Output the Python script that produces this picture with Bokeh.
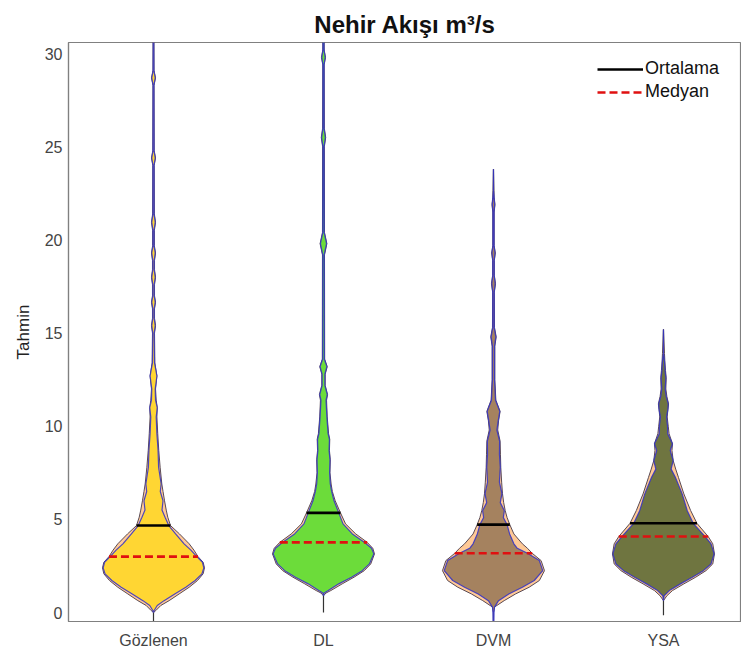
import numpy as np
from bokeh.plotting import figure
from bokeh.models import Range1d, Legend, LegendItem, FixedTicker
from bokeh.embed import file_html
from bokeh.resources import INLINE

categories = ["Gözlenen", "DL", "DVM", "YSA"]

# Violin half-width profiles (value level, outer KDE width, inner KDE width)
gozlenen_y = [0.0, 0.11, 0.38, 0.64, 1.0, 1.36, 1.72, 2.08, 2.4, 2.7, 3.0, 3.35, 3.69, 4.22, 4.67,
              5.12, 5.5, 6.0, 6.5, 6.9, 7.8, 8.7, 9.6, 10.5, 11.0, 11.4, 12.0, 12.7, 13.4, 15.0,
              15.4, 15.8, 16.3, 16.66, 17.0, 17.6, 18.0, 18.4, 18.9, 19.3, 19.7, 20.5, 20.95, 21.4,
              24.0, 24.4, 24.8, 28.3, 28.7, 29.1, 31.5]
gozlenen_outer = [0.0, 0.014, 0.043, 0.092, 0.151, 0.21, 0.259, 0.292, 0.30, 0.292, 0.262, 0.238,
                  0.21, 0.153, 0.10, 0.084, 0.075, 0.065, 0.056, 0.049, 0.039, 0.031, 0.025, 0.02,
                  0.022, 0.016, 0.012, 0.02, 0.008, 0.006, 0.012, 0.006, 0.006, 0.012, 0.006, 0.006,
                  0.012, 0.006, 0.006, 0.012, 0.005, 0.005, 0.012, 0.005, 0.004, 0.012, 0.004, 0.003,
                  0.012, 0.003, 0.002]
gozlenen_inner = [0.0, 0.004, 0.022, 0.062, 0.125, 0.19, 0.245, 0.285, 0.296, 0.288, 0.255, 0.22,
                  0.18, 0.13, 0.09, 0.068, 0.05, 0.056, 0.04, 0.045, 0.03, 0.027, 0.02, 0.016,
                  0.022, 0.012, 0.01, 0.02, 0.006, 0.004, 0.01, 0.004, 0.004, 0.01, 0.004, 0.004,
                  0.01, 0.004, 0.004, 0.01, 0.003, 0.003, 0.01, 0.003, 0.003, 0.01, 0.003, 0.002,
                  0.01, 0.002, 0.001]

dl_y = [0.9, 1.05, 1.18, 1.54, 1.9, 2.25, 2.61, 3.15, 3.45, 3.77, 4.22, 4.76, 5.35, 6.0, 6.5, 6.9,
        7.5, 8.2, 8.7, 9.3, 9.6, 10.5, 11.4, 11.7, 12.2, 12.8, 13.2, 13.6, 19.2, 19.8, 20.4, 25.0,
        25.5, 26.0, 29.4, 29.8, 30.2, 31.5]
dl_outer = [0.0, 0.015, 0.043, 0.11, 0.18, 0.24, 0.278, 0.30, 0.29, 0.257, 0.19, 0.13, 0.10, 0.069,
            0.052, 0.045, 0.038, 0.04, 0.035, 0.037, 0.03, 0.022, 0.018, 0.024, 0.01, 0.01, 0.022,
            0.007, 0.006, 0.02, 0.006, 0.005, 0.013, 0.005, 0.004, 0.012, 0.004, 0.003]
dl_inner = [0.0, 0.004, 0.028, 0.09, 0.165, 0.228, 0.27, 0.296, 0.283, 0.24, 0.17, 0.115, 0.09,
            0.062, 0.048, 0.04, 0.036, 0.038, 0.033, 0.035, 0.027, 0.02, 0.015, 0.022, 0.008,
            0.008, 0.02, 0.005, 0.004, 0.018, 0.004, 0.003, 0.011, 0.003, 0.003, 0.01, 0.003, 0.002]

dvm_y = [-0.6, 0.0, 0.29, 0.64, 1.0, 1.36, 1.72, 2.25, 2.79, 3.18, 3.45, 3.69, 4.22, 4.72, 5.1,
         5.47, 5.9, 6.38, 7.0, 7.8, 8.5, 9.2, 9.8, 10.3, 10.8, 11.4, 12.5, 14.3, 14.8, 15.3, 17.2,
         17.65, 18.1, 18.9, 19.3, 19.7, 21.5, 21.9, 22.3, 22.65, 23.8]
dvm_outer = [0.0, 0.0, 0.005, 0.063, 0.13, 0.21, 0.27, 0.30, 0.28, 0.228, 0.2, 0.17, 0.12, 0.096,
             0.08, 0.069, 0.06, 0.053, 0.048, 0.043, 0.041, 0.039, 0.025, 0.03, 0.039, 0.014,
             0.008, 0.008, 0.016, 0.006, 0.005, 0.012, 0.005, 0.005, 0.011, 0.004, 0.004, 0.009,
             0.004, 0.003, 0.0]
dvm_inner = [0.002, 0.003, 0.006, 0.03, 0.09, 0.17, 0.24, 0.29, 0.27, 0.2, 0.14, 0.12, 0.095,
             0.08, 0.058, 0.064, 0.04, 0.05, 0.035, 0.04, 0.035, 0.036, 0.02, 0.028, 0.037, 0.012,
             0.006, 0.006, 0.014, 0.004, 0.004, 0.01, 0.004, 0.004, 0.009, 0.003, 0.003, 0.007,
             0.003, 0.0, 0.0]

ysa_y = [0.64, 0.9, 1.18, 1.54, 1.9, 2.25, 2.61, 3.15, 3.69, 4.08, 4.79, 5.47, 6.37, 7.26, 7.7,
         8.16, 8.7, 9.06, 9.6, 10.0, 10.5, 10.9, 11.2, 11.6, 12.0, 12.6, 13.0, 13.5, 13.9, 15.2]
ysa_outer = [0.0, 0.02, 0.053, 0.12, 0.19, 0.25, 0.29, 0.30, 0.29, 0.263, 0.197, 0.16, 0.12, 0.088,
             0.072, 0.057, 0.05, 0.053, 0.033, 0.028, 0.022, 0.026, 0.03, 0.02, 0.014, 0.016,
             0.012, 0.008, 0.006, 0.0]
ysa_inner = [0.0, 0.004, 0.035, 0.1, 0.17, 0.235, 0.28, 0.298, 0.28, 0.245, 0.175, 0.14, 0.11,
             0.07, 0.045, 0.057, 0.04, 0.053, 0.025, 0.024, 0.018, 0.026, 0.028, 0.016, 0.01,
             0.014, 0.009, 0.006, 0.0, 0.0]

means = [4.67, 5.35, 4.72, 4.79]
medians = [3.0, 3.77, 3.18, 4.08]
data_min = [-1.0, 0.0, -1.0, -0.15]
data_max = [32.0, 32.0, 23.8, 15.2]

fill_colors = ["#FFD633", "#6CDC3A", "#A5825F", "#6F7540"]
outer_fill = "#FFC996"

profiles = [
    (gozlenen_y, gozlenen_outer, gozlenen_inner),
    (dl_y, dl_outer, dl_inner),
    (dvm_y, dvm_outer, dvm_inner),
    (ysa_y, ysa_outer, ysa_inner),
]

FONT = "Liberation Sans"

p = figure(width=741, height=657, output_backend="svg", toolbar_location=None,
           x_range=Range1d(0.5, 4.459), y_range=Range1d(-0.48, 30.6),
           min_border_left=68, min_border_right=0, min_border_top=42, min_border_bottom=36)

p.title.text = "Nehir Akışı m³/s"
p.title.align = "center"
p.title.text_font = FONT
p.title.text_font_size = "24px"
p.title.text_font_style = "bold"
p.title.text_color = "#111111"
p.title.standoff = 10
p.title.offset = 10

p.xgrid.visible = False
p.ygrid.visible = False
p.outline_line_color = "#808080"
p.outline_line_width = 1.2
p.background_fill_color = "white"
p.border_fill_color = "white"

# thin range lines
p.segment(x0=[i + 1 for i in range(4)], y0=data_min, x1=[i + 1 for i in range(4)], y1=data_max,
          line_color="#333333", line_width=1.2)

for i, (ys, outer, inner) in enumerate(profiles):
    c = i + 1
    ys = np.array(ys, dtype=float)
    o = np.array(outer, dtype=float)
    n = np.array(inner, dtype=float)
    xo = np.concatenate([c + o, (c - o)[::-1]])
    yo = np.concatenate([ys, ys[::-1]])
    xi = np.concatenate([c + n, (c - n)[::-1]])
    p.patch(xo, yo, fill_color=outer_fill, line_color="#5a4a55", line_width=1)
    p.patch(xi, yo, fill_color=fill_colors[i], line_color="#2f2fc8", line_width=1.2, line_alpha=0.85)

centers = np.arange(1, 5)
mean_hw = [np.interp(means[i], profiles[i][0], profiles[i][1]) for i in range(4)]
med_hw = [np.interp(medians[i], profiles[i][0], profiles[i][1]) for i in range(4)]

r_mean = p.segment(x0=centers - np.array(mean_hw), y0=means, x1=centers + np.array(mean_hw), y1=means,
                   line_color="black", line_width=2.6)
r_med = p.segment(x0=centers - np.array(med_hw), y0=medians, x1=centers + np.array(med_hw), y1=medians,
                  line_color="#E01010", line_width=2.6, line_dash="8 4")

legend = Legend(items=[LegendItem(label="Ortalama", renderers=[r_mean]),
                       LegendItem(label="Medyan", renderers=[r_med])],
                location=(529, 519), border_line_color=None, background_fill_alpha=0,
                padding=0, margin=0, spacing=2, glyph_width=46, glyph_height=18,
                label_height=18, label_standoff=2, label_text_font_size="18px",
                label_text_font=FONT, label_text_color="#111111")
p.add_layout(legend)

p.xaxis.ticker = FixedTicker(ticks=[1, 2, 3, 4])
p.xaxis.major_label_overrides = {i + 1: c for i, c in enumerate(categories)}
p.yaxis.ticker = FixedTicker(ticks=[0, 5, 10, 15, 20, 25, 30])
for ax in (p.xaxis, p.yaxis):
    ax.major_tick_in = 0
    ax.major_tick_out = 0
    ax.minor_tick_in = 0
    ax.minor_tick_out = 0
    ax.axis_line_color = "#808080"
    ax.axis_line_width = 1.2
    ax.major_label_text_font = FONT
    ax.major_label_text_font_size = "16px"
    ax.major_label_text_color = "#444444"
p.xaxis.major_label_standoff = 10
p.yaxis.major_label_standoff = 6
p.yaxis.axis_label = "Tahmin"
p.yaxis.axis_label_text_font = FONT
p.yaxis.axis_label_text_font_size = "17px"
p.yaxis.axis_label_text_font_style = "normal"
p.yaxis.axis_label_text_color = "#222222"
p.yaxis.axis_label_standoff = 9

open("out.html", "w").write(file_html(p, INLINE))
